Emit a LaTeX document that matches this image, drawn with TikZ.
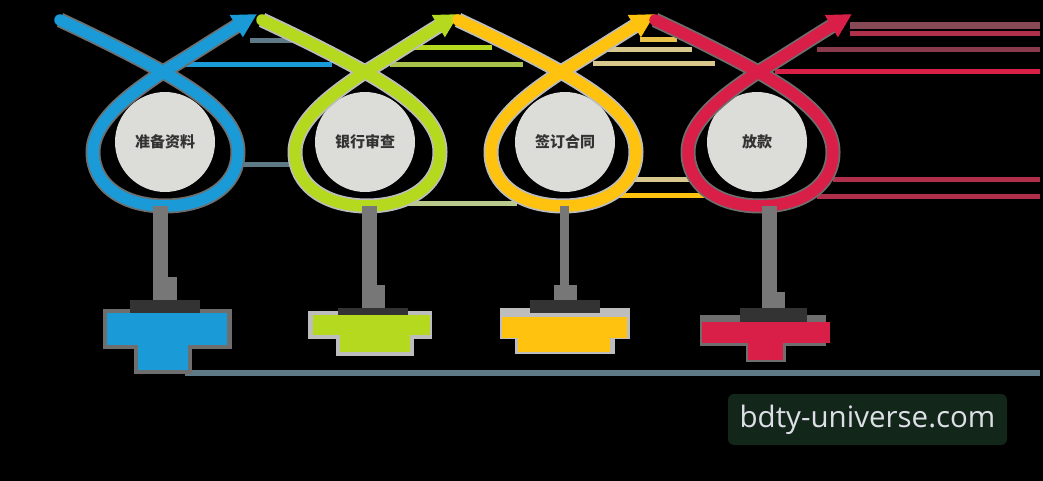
\documentclass[tikz,border=0pt]{standalone}
\usepackage{fontspec}
\usetikzlibrary{arrows.meta}
\newfontfamily\cjk{Noto Sans CJK SC}
\newfontfamily\wmfont{Open Sans}
\definecolor{cblue}{HTML}{1A9AD6}
\definecolor{cgreen}{HTML}{B5D91F}
\definecolor{cyellow}{HTML}{FFC20E}
\definecolor{cred}{HTML}{D91E48}
\definecolor{slate}{HTML}{5F7A87}
\definecolor{circfill}{HTML}{DCDCD8}
\definecolor{stemgrey}{HTML}{777777}
\definecolor{bardark}{HTML}{333333}
\definecolor{wmbg}{HTML}{13261A}
\definecolor{wmtext}{HTML}{DCDFE6}
\definecolor{haloA}{HTML}{6E6E6E}
\definecolor{haloB}{HTML}{BDBDBD}
\definecolor{paleyel}{HTML}{D8C88E}
\definecolor{palegrn}{HTML}{A9C24C}
\definecolor{palegrn2}{HTML}{B9C98C}
\definecolor{dullred}{HTML}{8A3B4B}
\definecolor{midred}{HTML}{B0304C}
\definecolor{yelline}{HTML}{E9C24A}
\tikzset{
  x=1pt, y=-1pt,
  loopline/.style={line width=11.5pt, line cap=round, draw=#1,
    -{Triangle[length=24pt,width=24pt]}},
  circnode/.style={circle, fill=circfill, minimum size=100pt, inner sep=0pt,
    font=\cjk\bfseries\fontsize{15}{15}\selectfont, text=black!80},
  hline/.style={line width=5pt, draw=#1},
  stemline/.style={line width=#1, draw=stemgrey},
  stembox/.style={fill=stemgrey, inner sep=0pt, draw=none},
  barnode/.style={fill=bardark, inner sep=0pt, draw=none},
  blob/.style={fill=#1, inner sep=0pt, draw=none},
}
\newcommand\drawloop[3]{%
  \begin{scope}[xshift=#1pt]
    \draw[line width=15pt, draw=#3, shorten >=14pt]
      (-103,20) .. controls (-60,40) and (-25,58) .. (0,72)
      .. controls (35,92) and (75,118) .. (75,152)
      .. controls (75,188) and (40,206) .. (2,206)
      .. controls (-40,206) and (-70,185) .. (-70,152)
      .. controls (-70,120) and (-30,92) .. (0,72)
      .. controls (30,54) and (60,34) .. (94,14);
    \draw[loopline=#2]
      (-103,20) .. controls (-60,40) and (-25,58) .. (0,72)
      .. controls (35,92) and (75,118) .. (75,152)
      .. controls (75,188) and (40,206) .. (2,206)
      .. controls (-40,206) and (-70,185) .. (-70,152)
      .. controls (-70,120) and (-30,92) .. (0,72)
      .. controls (30,54) and (60,34) .. (94,14);
  \end{scope}}
\begin{document}
\begin{tikzpicture}
\fill[black] (0,0) rectangle (1043,481);
\useasboundingbox (0,0) rectangle (1043,481);

% background horizontal lines
\draw[hline=slate] (250,41) -- (292,41);
\draw[hline=cblue] (185,65) -- (332,65);
\draw[hline=slate] (238,165) -- (292,165);
\draw[hline=cgreen] (413,48) -- (492,48);
\draw[hline=palegrn] (390,65) -- (523,65);
\draw[hline=palegrn2] (400,203) -- (517,203);
\draw[hline=yelline] (640,40) -- (677,40);
\draw[hline=paleyel] (607,50) -- (692,50);
\draw[hline=paleyel] (593,64) -- (715,64);
\draw[hline=paleyel] (633,180) -- (692,180);
\draw[hline=cyellow] (617,195) -- (708,195);
\draw[line width=7pt, draw=dullred!80!gray] (850,26) -- (1040,26);
\draw[hline=midred] (850,34) -- (1040,34);
\draw[hline=dullred] (817,50) -- (1040,50);
\draw[hline=cred] (775,72) -- (1040,72);
\draw[hline=midred] (833,180) -- (1040,180);
\draw[hline=midred] (817,196) -- (1040,196);
\draw[line width=6pt, draw=slate] (185,372.5) -- (1040,372.5);

% circles
\node[circnode] (c1) at (165,142) {准备资料};
\node[circnode] (c2) at (365,142) {银行审查};
\node[circnode] (c3) at (565,142) {签订合同};
\node[circnode] (c4) at (757,142) {放款};

% loops
\drawloop{163}{cblue}{haloA}
\drawloop{365}{cgreen}{haloB}
\drawloop{561}{cyellow}{haloB}
\drawloop{758}{cred}{haloA}

% ---- blue column
\fill[haloA] (103,309) rectangle (232,349);
\fill[haloA] (134,345) rectangle (192,374);
\node[barnode, minimum width=70pt, minimum height=13pt] (bar1) at (165,306.5) {};
\node[blob=cblue, minimum width=120pt, minimum height=32pt] (b1) at (167,329) {};
\node[blob=cblue, minimum width=50pt, minimum height=26pt] (b1x) at (163,357) {};
\coordinate (s1) at (160,206);
\node[stembox, minimum width=24pt, minimum height=23pt] (k1) at (165,288.5) {};
\draw[stemline=15pt] (s1) -- (s1 |- bar1.north);

% ---- green column
\fill[haloB] (308,311) rectangle (432,339);
\fill[haloB] (336,335) rectangle (414,356);
\node[barnode, minimum width=70pt, minimum height=7pt] (bar2) at (373,311.5) {};
\node[blob=cgreen, minimum width=117pt, minimum height=20pt] (b2) at (371.5,325) {};
\node[blob=cgreen, minimum width=70pt, minimum height=17pt] (b2x) at (375,343.5) {};
\coordinate (s2) at (369.5,206);
\node[stembox, minimum width=23pt, minimum height=23pt] (k2) at (373.5,296.5) {};
\draw[stemline=15pt] (s2) -- (s2 |- bar2.north);

% ---- yellow column
\fill[haloB] (500,308) rectangle (630,339);
\fill[haloB] (515,336) rectangle (615,354);
\node[barnode, minimum width=70pt, minimum height=13pt] (bar3) at (565,306.5) {};
\node[blob=cyellow, minimum width=125pt, minimum height=21pt] (b3) at (564.5,327.5) {};
\node[blob=cyellow, minimum width=92pt, minimum height=14pt] (b3x) at (564,345) {};
\coordinate (s3) at (564.5,206);
\node[stembox, minimum width=23pt, minimum height=15pt] (k3) at (565.5,292.5) {};
\draw[stemline=9pt] (s3) -- (s3 |- bar3.north);

% ---- red column
\fill[haloA] (700,315) rectangle (826,346);
\fill[haloA] (746,342) rectangle (786,362);
\node[barnode, minimum width=67pt, minimum height=14pt] (bar4) at (773.5,315) {};
\node[blob=cred, minimum width=128pt, minimum height=21pt] (b4) at (766,332.5) {};
\node[blob=cred, minimum width=35pt, minimum height=17pt] (b4x) at (765.5,351.5) {};
\coordinate (s4) at (769.5,206);
\node[stembox, minimum width=23pt, minimum height=16pt] (k4) at (773.5,300) {};
\draw[stemline=15pt] (s4) -- (s4 |- bar4.north);

% watermark
\node[fill=wmbg, rounded corners=6pt, minimum width=279pt, minimum height=51pt,
  inner sep=0pt, text=wmtext, font=\wmfont\fontsize{29.5}{29.5}\selectfont]
  (wm) at (867.5,419.5) {bdty-universe.com};
\end{tikzpicture}
\end{document}
